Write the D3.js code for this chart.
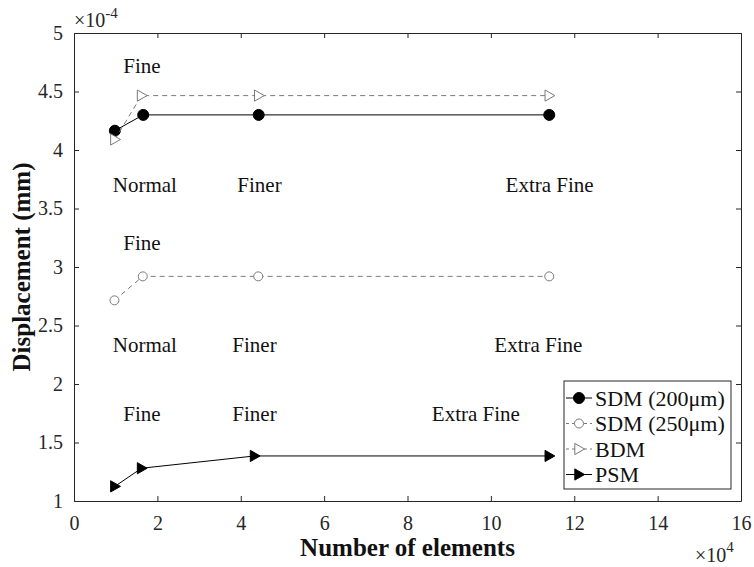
<!DOCTYPE html>
<html>
<head>
<meta charset="utf-8">
<script src="https://cdn.jsdelivr.net/npm/d3@7"></script>
<style>
  body { margin: 0; background: #fff; }
  svg { font-family: "Liberation Serif", "Times New Roman", serif; }
</style>
</head>
<body>
<div id="chart"></div>
<script>
// data (displacement in 1e-4 mm, elements in 1e4)
const xSdm200 = [0.98, 1.66, 4.43, 11.4];
const ySdm200 = [4.165, 4.30, 4.30, 4.30];
const xSdm250 = [0.97, 1.65, 4.42, 11.4];
const ySdm250 = [2.715, 2.92, 2.92, 2.92];
const xBdm = [0.98, 1.62, 4.43, 11.4];
const yBdm = [4.09, 4.465, 4.465, 4.465];
const xPsm = [0.98, 1.62, 4.33, 11.4];
const yPsm = [1.125, 1.28, 1.385, 1.385];

const xTicks = [0, 2, 4, 6, 8, 10, 12, 14, 16];
const yTicks = [1, 1.5, 2, 2.5, 3, 3.5, 4, 4.5, 5];

const meshLabels = [
  { text: "Fine", x: 1.63, y: 4.72 },
  { text: "Normal", x: 1.7, y: 3.70 },
  { text: "Finer", x: 4.45, y: 3.70 },
  { text: "Extra Fine", x: 11.41, y: 3.70 },
  { text: "Fine", x: 1.63, y: 3.21 },
  { text: "Normal", x: 1.7, y: 2.34 },
  { text: "Finer", x: 4.33, y: 2.34 },
  { text: "Extra Fine", x: 11.14, y: 2.34 },
  { text: "Fine", x: 1.63, y: 1.75 },
  { text: "Finer", x: 4.33, y: 1.75 },
  { text: "Extra Fine", x: 9.64, y: 1.75 }
];

const series = [
  { name: "SDM (200\u03bcm)", xs: xSdm200, ys: ySdm200, color: "#000", dash: null, marker: "circle", filled: true, r: 5.5 },
  { name: "SDM (250\u03bcm)", xs: xSdm250, ys: ySdm250, color: "#7a7a7a", dash: "5,4", marker: "circle", filled: false, r: 4.5 },
  { name: "BDM", xs: xBdm, ys: yBdm, color: "#7a7a7a", dash: "5,4", marker: "triangle", filled: false, r: 7 },
  { name: "PSM", xs: xPsm, ys: yPsm, color: "#000", dash: null, marker: "triangle", filled: true, r: 7 }
];

const width = 754, height = 567;
const margin = { top: 33, right: 13, bottom: 66, left: 74 };
const innerW = width - margin.left - margin.right;
const innerH = height - margin.top - margin.bottom;
const axisColor = "#262626";

const svg = d3.select("#chart").append("svg")
  .attr("width", width).attr("height", height)
  .attr("viewBox", `0 0 ${width} ${height}`);

const x = d3.scaleLinear().domain([0, 16]).range([0, innerW]);
const y = d3.scaleLinear().domain([1, 5]).range([innerH, 0]);

const g = svg.append("g").attr("transform", `translate(${margin.left},${margin.top})`);

// axes (ticks inward, box on)
const tickLen = 5;
const fmt = d3.format("~g");
const axBottom = g.append("g").attr("transform", `translate(0,${innerH})`)
  .call(d3.axisBottom(x).tickValues(xTicks).tickFormat(fmt).tickSizeInner(-tickLen).tickSizeOuter(0).tickPadding(15));
const axLeft = g.append("g")
  .call(d3.axisLeft(y).tickValues(yTicks).tickFormat(fmt).tickSizeInner(-tickLen).tickSizeOuter(0).tickPadding(11));
const axTop = g.append("g")
  .call(d3.axisTop(x).tickValues(xTicks).tickSizeInner(-tickLen).tickSizeOuter(0).tickFormat(""));
const axRight = g.append("g").attr("transform", `translate(${innerW},0)`)
  .call(d3.axisRight(y).tickValues(yTicks).tickSizeInner(-tickLen).tickSizeOuter(0).tickFormat(""));

[axBottom, axLeft, axTop, axRight].forEach(a => {
  a.attr("font-family", null).attr("font-size", null);
  a.select(".domain").attr("stroke", axisColor).attr("stroke-width", 1);
  a.selectAll(".tick line").attr("stroke", axisColor);
  a.selectAll("text").attr("fill", axisColor)
    .style("font-family", "'Liberation Serif', serif").style("font-size", "20px");
});

// lines + markers
const line = d3.line().x(d => x(d[0])).y(d => y(d[1]));

function drawMarker(sel, s, px, py) {
  if (s.marker === "circle") {
    sel.append("circle").attr("cx", px).attr("cy", py).attr("r", s.r)
      .attr("fill", s.filled ? s.color : "#fff")
      .attr("stroke", s.color).attr("stroke-width", 1);
  } else {
    const r = s.r;
    sel.append("path")
      .attr("d", `M${px - r * 0.6},${py - r * 0.8}L${px + r * 0.8},${py}L${px - r * 0.6},${py + r * 0.8}Z`)
      .attr("fill", s.filled ? s.color : "#fff")
      .attr("stroke", s.color).attr("stroke-width", 1);
  }
}

series.forEach(s => {
  const pts = s.xs.map((v, i) => [v, s.ys[i]]);
  g.append("path").datum(pts)
    .attr("d", line)
    .attr("fill", "none")
    .attr("stroke", s.color)
    .attr("stroke-width", 1)
    .attr("stroke-dasharray", s.dash);
  const mg = g.append("g");
  pts.forEach(p => drawMarker(mg, s, x(p[0]), y(p[1])));
});

// mesh annotations
g.selectAll(".mesh")
  .data(meshLabels)
  .join("text")
  .attr("class", "mesh")
  .attr("x", d => x(d.x))
  .attr("y", d => y(d.y))
  .attr("dy", "0.35em")
  .attr("text-anchor", "middle")
  .attr("fill", "#111")
  .style("font-size", "21px")
  .text(d => d.text);

// exponent labels
const expTop = svg.append("text").attr("x", 74).attr("y", 27)
  .attr("fill", axisColor).style("font-size", "20px");
expTop.append("tspan").text("\u00d710");
expTop.append("tspan").attr("dy", -9).style("font-size", "15px").text("-4");

const expBottom = svg.append("text").attr("x", 695).attr("y", 562)
  .attr("fill", axisColor).style("font-size", "20px");
expBottom.append("tspan").text("\u00d710");
expBottom.append("tspan").attr("dy", -10).style("font-size", "15px").text("4");

// axis titles
svg.append("text")
  .attr("x", margin.left + innerW / 2).attr("y", 556)
  .attr("text-anchor", "middle")
  .attr("fill", "#111")
  .style("font-size", "25px").style("font-weight", "bold")
  .text("Number of elements");

svg.append("text")
  .attr("transform", `translate(30,${margin.top + innerH / 2}) rotate(-90)`)
  .attr("text-anchor", "middle")
  .attr("fill", "#111")
  .style("font-size", "25px").style("font-weight", "bold")
  .text("Displacement (mm)");

// legend
const legend = svg.append("g").attr("transform", "translate(564,381)");
legend.append("rect").attr("width", 167).attr("height", 108)
  .attr("fill", "#fff").attr("stroke", axisColor).attr("stroke-width", 1);
series.forEach((s, i) => {
  const ly = 17 + i * 25.5;
  const row = legend.append("g");
  row.append("line").attr("x1", 2).attr("x2", 28).attr("y1", ly).attr("y2", ly)
    .attr("stroke", s.color).attr("stroke-width", 1).attr("stroke-dasharray", s.dash ? "3,3" : null);
  drawMarker(row, s, 15, ly);
  row.append("text").attr("x", 31).attr("y", ly).attr("dy", "0.35em")
    .attr("fill", "#111").style("font-size", "22px").text(s.name);
});
</script>
</body>
</html>
